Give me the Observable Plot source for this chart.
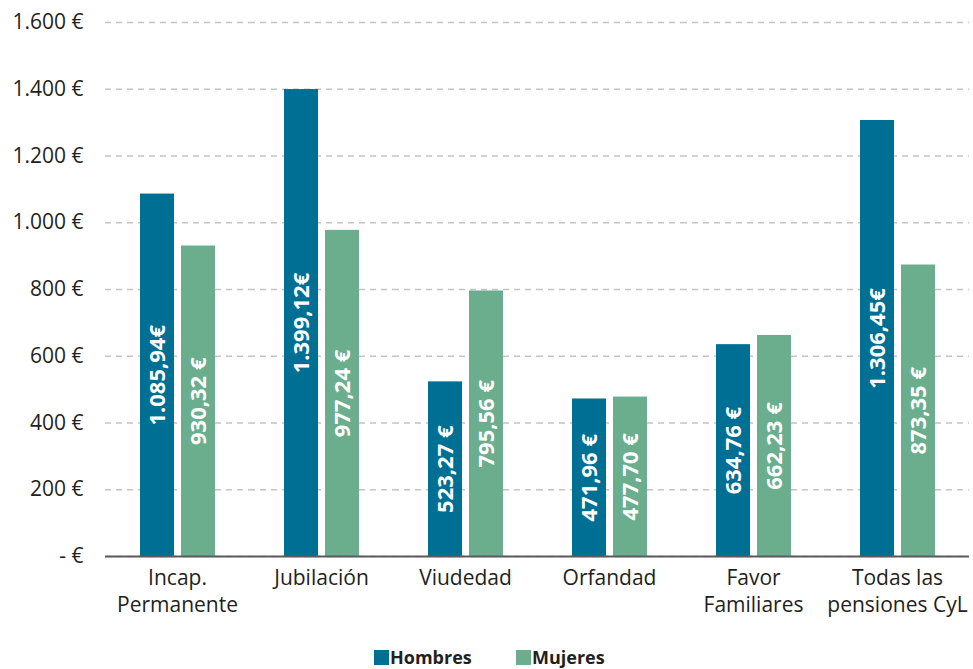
<!DOCTYPE html>
<html><head><meta charset="utf-8">
<script src="https://cdn.jsdelivr.net/npm/d3@7"></script>
<script src="https://cdn.jsdelivr.net/npm/@observablehq/plot@0.6"></script>
<style>
body{margin:0;background:#fff;font-family:"Open Sans",sans-serif;}
#wrap{position:relative;width:973px;height:669px;overflow:hidden;}
.item{position:absolute;top:647px;display:flex;align-items:center;font-weight:bold;font-size:18px;color:#231f20;line-height:20px}
.sw{display:inline-block;width:15px;height:15px;margin-right:1px}
</style></head>
<body><div id="wrap"></div>
<script>
const categorias = ["Incap.\nPermanente","Jubilación","Viudedad","Orfandad","Favor\nFamiliares","Todas las\npensiones CyL"];
const series = ["Hombres","Mujeres"];
const colores = ["#006f94","#6aae8e"];
const hombres = [1085.94,1399.12,523.27,471.96,634.76,1306.45];
const mujeres = [930.32,977.24,795.56,477.70,662.23,873.35];
const etiquetasH = ["1.085,94€","1.399,12€","523,27 €","471,96 €","634,76 €","1.306,45€"];
const etiquetasM = ["930,32 €","977,24 €","795,56 €","477,70 €","662,23 €","873,35 €"];
const yTicks = [0,200,400,600,800,1000,1200,1400,1600];

const data = [];
categorias.forEach((c,i)=>{
  data.push({cat:c, serie:series[0], valor:hombres[i], etiqueta:etiquetasH[i]});
  data.push({cat:c, serie:series[1], valor:mujeres[i], etiqueta:etiquetasM[i]});
});
const loc = d3.formatLocale({decimal:",", thousands:".", grouping:[3], currency:["","€"]});
const fmt = loc.format(",");
const tickFmt = d => d === 0 ? "- €" : fmt(d) + " €";

const chart = Plot.plot({
  width:973, height:645,
  marginLeft:104, marginRight:3, marginTop:22, marginBottom:89,
  style:{fontFamily:"Open Sans, sans-serif", fontSize:"21px", color:"#231f20", background:"#fff"},
  fx:{domain:categorias, padding:0, label:null, axis:null},
  x:{domain:series, paddingInner:0.18, paddingOuter:0.83, axis:null},
  y:{domain:[0,1600], axis:null},
  color:{domain:series, range:colores},
  marks:[
    Plot.gridY(yTicks, {stroke:"#c4c4c4", strokeOpacity:1, strokeWidth:1.3, strokeDasharray:"6,5"}),
    Plot.barY(data, {fx:"cat", x:"serie", y:"valor", fill:"serie"}),
    Plot.ruleY([0], {stroke:"#5a5a5a", strokeWidth:2}),
    Plot.text(data, {fx:"cat", x:"serie", y:d=>d.valor/2, text:"etiqueta", rotate:-90, fill:"white", fontWeight:"bold", fontSize:22}),
    Plot.axisY({ticks:yTicks, tickSize:0, tickPadding:22, tickFormat:tickFmt, fontSize:21, label:null, fill:"#231f20"}),
    Plot.axisFx({anchor:"bottom", tickSize:0, tickPadding:9, fontSize:21, lineHeight:1.3, label:null, fill:"#231f20"})
  ]
});
const wrap = document.getElementById("wrap");
wrap.appendChild(chart);
const pos = [374, 516];
series.forEach((s,i)=>{
  const it = document.createElement("div");
  it.className = "item";
  it.style.left = pos[i] + "px";
  it.innerHTML = `<span class="sw" style="background:${colores[i]}"></span><span>${s}</span>`;
  wrap.appendChild(it);
});
</script></body></html>
